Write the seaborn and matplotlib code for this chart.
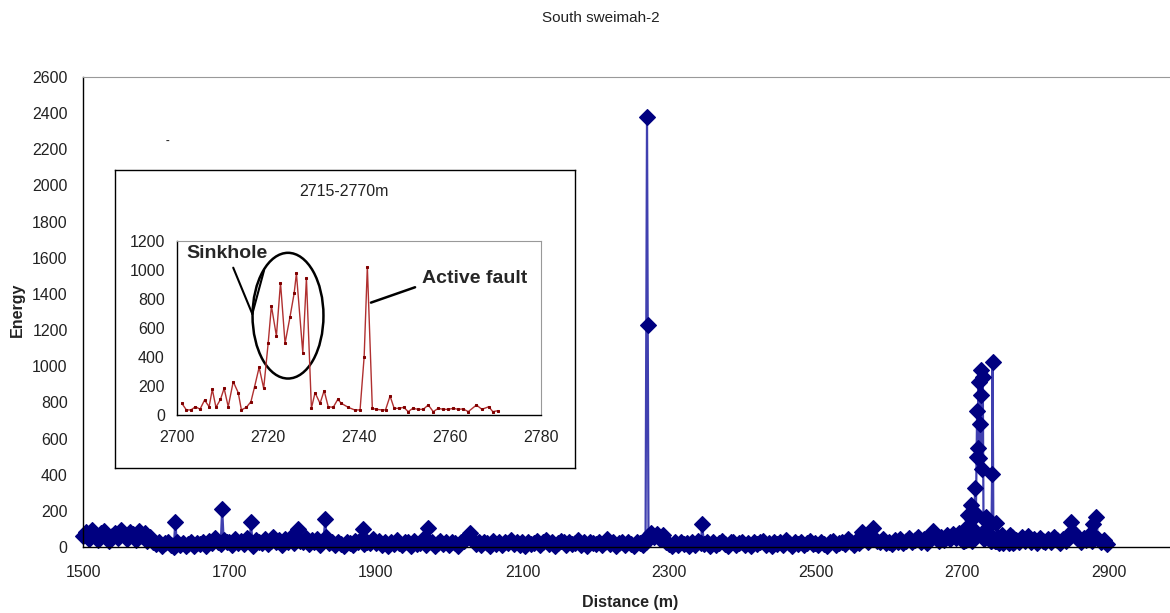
import numpy as np
import pandas as pd
import matplotlib
matplotlib.use("Agg")
import matplotlib.pyplot as plt
from matplotlib.patches import Ellipse
import seaborn as sns

# baseline readings, 4 m apart (1500-2696 and 2774-2898)
base1_start, base1_step = 1500, 4
base1_energy = [
    60, 85, 45, 95, 70, 40, 75, 90, 55, 35, 60, 80, 50, 95, 65, 45, 85, 70, 40, 90, 60, 75, 35, 55, 30,
    15, 30, 5, 20, 25, 10, 0, 28, 12, 22, 5, 18, 30, 8, 20, 15, 25, 5, 35, 20, 50, 30, 15, 40, 25,
    30, 10, 45, 20, 35, 15, 50, 25, 5, 40, 30, 20, 45, 15, 35, 55, 25, 40, 10, 45, 30, 55, 20, 40, 35,
    25, 50, 15, 40, 30, 45, 10, 35, 55, 20, 30, 10, 25, 15, 5, 30, 20, 10, 35, 25, 40, 15, 30, 20, 45,
    20, 35, 10, 25, 5, 30, 15, 40, 20, 10, 30, 25, 5, 35, 15, 20, 45, 10, 25, 30, 5, 20, 35, 15, 25,
    10, 30, 20, 5, 25, 35, 55, 75, 40, 15, 25, 10, 30, 20, 5, 35, 15, 25, 10, 30, 20, 40, 15, 25, 10,
    25, 5, 30, 15, 20, 35, 10, 25, 40, 15, 30, 5, 20, 35, 25, 10, 30, 15, 20, 40, 10, 25, 5, 30, 20,
    15, 30, 10, 25, 45, 15, 30, 5, 20, 25, 10, 30, 15, 5, 25, 20, 10, 30, 60, 75, 55, 70, 45, 65, 30,
    15, 5, 25, 10, 30, 15, 20, 5, 25, 10, 35, 20, 15, 30, 5, 25, 10, 20, 35, 15, 5, 25, 30, 10, 20,
    25, 10, 20, 5, 30, 15, 25, 35, 10, 20, 5, 30, 15, 25, 10, 40, 20, 5, 30, 15, 25, 10, 20, 35, 15,
    20, 10, 30, 15, 5, 25, 35, 10, 20, 30, 15, 45, 25, 10, 35, 20, 40, 55, 30, 50, 45, 35, 30, 45, 20,
    30, 15, 40, 25, 45, 20, 35, 50, 25, 40, 55, 30, 45, 20, 60, 90, 50, 35, 55, 40, 65, 45, 70, 50, 80,
]
base2_start, base2_step = 2774, 4
base2_energy = [
    40, 25, 55, 35, 60, 30, 45, 20, 50, 35, 25, 45, 30, 55, 40, 20,
    45, 35, 60, 90, 70, 45, 30, 50, 40, 65, 35, 55, 45, 30, 40, 15,
]

# isolated high readings
spike_dist = [1626, 1690, 1729, 1793, 1831, 1882, 1971, 2270, 2271, 2345, 2563, 2579, 2849, 2879, 2883]
spike_energy = [140, 210, 140, 100, 155, 100, 107, 2380, 1230, 127, 85, 105, 140, 127, 168]

# detailed section 2700-2771 m (shown in the inset)
detail_dist = [
    2701.0, 2702.0, 2703.0, 2704.0, 2705.0, 2706.0, 2707.0, 2707.7, 2708.5, 2709.5,
    2710.3, 2711.2, 2712.3, 2713.4, 2714.1, 2715.2, 2716.2, 2717.0, 2718.0, 2719.0,
    2720.0, 2720.7, 2721.8, 2722.7, 2723.7, 2724.8, 2725.7, 2726.2, 2727.6, 2728.4,
    2729.5, 2730.3, 2731.4, 2732.3, 2733.2, 2734.3, 2735.3, 2736.1, 2737.6, 2739.0,
    2740.2, 2741.1, 2741.8, 2742.9, 2743.8, 2745.0, 2745.8, 2746.8, 2747.7, 2748.8,
    2749.8, 2750.8, 2751.8, 2753.0, 2754.1, 2755.2, 2756.3, 2757.4, 2758.5, 2759.6,
    2760.7, 2761.8, 2762.9, 2764.0, 2765.8, 2767.0, 2768.5, 2769.4, 2770.6,
]
detail_energy = [
    80, 35, 35, 57, 40, 103, 57, 177, 53, 108,
    184, 57, 230, 154, 35, 53, 92, 195, 329, 184,
    499, 752, 545, 913, 494, 678, 839, 977, 430, 943,
    46, 154, 80, 168, 57, 53, 108, 80, 53, 35,
    35, 402, 1023, 46, 39, 35, 35, 131, 46, 46,
    53, 23, 46, 39, 39, 69, 23, 46, 39, 39,
    46, 39, 42, 23, 69, 39, 57, 23, 30,
]

base1_dist = base1_start + base1_step * np.arange(len(base1_energy))
base2_dist = base2_start + base2_step * np.arange(len(base2_energy))
main = pd.DataFrame({
    "Distance": np.concatenate([base1_dist, spike_dist, detail_dist, base2_dist]),
    "Energy": np.concatenate([base1_energy, spike_energy, detail_energy, base2_energy]),
})
inset = pd.DataFrame({"Distance": detail_dist, "Energy": detail_energy})

sns.set_style("white")
plt.rcParams['font.family'] = ['Liberation Sans', 'DejaVu Sans']

fig = plt.figure(figsize=(11.7, 6.13), dpi=100)
ax = fig.add_axes([83/1170, 1-547/613, 1-83/1170, 470/613])
sns.lineplot(data=main, x="Distance", y="Energy", ax=ax, errorbar=None,
             color="#4040B0", linewidth=1.6, marker="D", markersize=8,
             markerfacecolor="#000080", markeredgecolor="#000080", markeredgewidth=0.8,
             clip_on=False)
ax.set_xlim(1500, 2984)
ax.set_ylim(0, 2600)
ax.set_xticks(range(1500, 2901, 200))
ax.set_yticks(range(0, 2601, 200))
ax.set(xlabel="", ylabel="")
for s in ["left", "bottom"]:
    ax.spines[s].set_color("black")
    ax.spines[s].set_linewidth(1)
ax.spines["top"].set_color("#999999")
ax.spines["right"].set_visible(False)
ax.tick_params(axis="x", direction="out", length=5, width=1, colors="black", labelsize=11.5, pad=8)
ax.tick_params(axis="y", direction="out", length=6, width=1, colors="black", labelsize=11.5, pad=5)
ax.tick_params(axis="x", labelcolor="#222222")
ax.tick_params(axis="y", labelcolor="#222222")

fig.text(601/1170, 1-18/613, "South sweimah-2", ha="center", va="center", fontsize=11, color="#222222")
fig.text(17.5/1170, 1-310/613, "Energy", rotation=90, ha="center", va="center",
         fontsize=11.5, fontweight="bold", color="#222222")
fig.text(630/1170, 1-602/613, "Distance (m)", ha="center", va="center",
         fontsize=11.5, fontweight="bold", color="#222222")
fig.text(167/1170, 1-141/613, "-", ha="center", va="center", fontsize=8, fontweight="bold")

# inset frame
box = fig.add_axes([115/1170, 1-468/613, 460/1170, 298/613], zorder=3)
box.set_xticks([])
box.set_yticks([])
box.set_facecolor("white")
for s in box.spines.values():
    s.set_visible(True)
    s.set_color("black")
    s.set_linewidth(1)
fig.text(344/1170, 1-192/613, "2715-2770m", ha="center", va="center", fontsize=11.5,
         color="#222222", zorder=5)

axi = fig.add_axes([177.3/1170, 1-415/613, 363.7/1170, 174/613], zorder=4)
sns.lineplot(data=inset, x="Distance", y="Energy", ax=axi, errorbar=None,
             color="#B03030", linewidth=1.0, marker="s", markersize=2,
             markerfacecolor="#800000", markeredgecolor="#800000")
axi.set_xlim(2700, 2780)
axi.set_ylim(0, 1200)
axi.set_xticks(range(2700, 2781, 20))
axi.set_yticks(range(0, 1201, 200))
axi.set(xlabel="", ylabel="")
for s in ["left", "bottom"]:
    axi.spines[s].set_color("black")
    axi.spines[s].set_linewidth(1)
for s in ["top", "right"]:
    axi.spines[s].set_color("#999999")
axi.tick_params(axis="x", direction="out", length=4, width=1, colors="black",
                labelsize=11.5, pad=7, labelcolor="#222222")
axi.tick_params(axis="y", direction="out", length=4, width=1, colors="black",
                labelsize=11.5, pad=5, labelcolor="#222222")

axi.add_patch(Ellipse((2724.35, 685), 15.6, 867, fill=False, edgecolor="black", linewidth=1.8))
axi.plot([2712.3, 2716.5], [1016, 697], color="black", linewidth=1.5)
axi.plot([2719.1, 2716.5], [1000, 697], color="black", linewidth=1.5)
axi.plot([2752.3, 2742.6], [881, 775], color="black", linewidth=1.8)
axi.text(2702, 1112, "Sinkhole", ha="left", va="center", fontsize=14, fontweight="bold")
axi.text(2753.9, 938, "Active fault", ha="left", va="center", fontsize=14, fontweight="bold")

fig.savefig("out.png", dpi=100)
